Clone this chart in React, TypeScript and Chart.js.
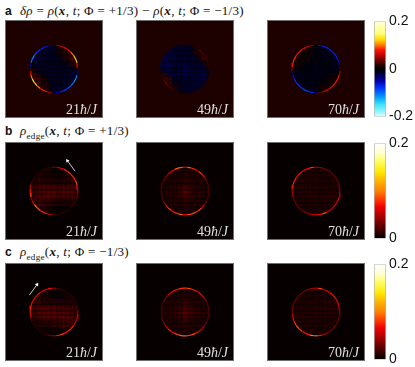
import React, { useEffect, useRef } from "react";
import { Chart, registerables } from "chart.js";

Chart.register(...registerables);

// ---- Colour maps: value levels and their colours ----
const divergingLevels = [-0.2, -0.15, -0.12, -0.08, -0.05, -0.015, 0, 0.015, 0.05, 0.08, 0.105, 0.125, 0.15, 0.2];
const divergingColors = ["#d4ffff", "#40e4ff", "#00a4ff", "#0034ff", "#0000a8", "#000028", "#000000", "#240000", "#a00000", "#ff1000", "#ff9000", "#ffe000", "#ffff80", "#ffffd8"];
const sequentialLevels = [0, 0.04, 0.066, 0.08, 0.1, 0.12, 0.14, 0.165, 0.18, 0.2];
const sequentialColors = ["#000000", "#900000", "#ee0000", "#ff3000", "#ff8000", "#ffb000", "#ffe800", "#ffff70", "#ffffd0", "#ffffff"];

// ---- Tick labels, times ----
const divergingTicks = [-0.2, 0, 0.2];
const sequentialTicks = [0, 0.2];
const timeLabels = ["21", "49", "70"];

// ---- Background level outside the disc for each row ----
const floorA = 0.012;
const floorB = 0.002;
const floorC = 0.002;

// ---- Edge (rim) density, one value every 10 degrees, counter-clockwise from east ----
const rimA21 = [0.02, 0.07, 0.12, 0.12, 0.1, 0.08, 0.07, 0.06, 0.05, 0.01, -0.04, -0.06, -0.07, -0.08, -0.09, -0.11, -0.1, -0.04, 0.02, 0.06, 0.1, 0.13, 0.12, 0.1, 0.08, 0.07, 0.05, -0.02, -0.05, -0.07, -0.08, -0.09, -0.1, -0.11, -0.11, -0.05];
const rimA49 = [0.012, 0.016, 0.02, 0.022, 0.028, 0.028, 0.016, 0.01, -0.008, -0.01, -0.012, -0.014, -0.016, -0.016, -0.02, -0.024, -0.028, -0.024, -0.012, 0.01, 0.018, 0.028, 0.032, 0.024, 0.018, 0.012, 0.008, -0.008, -0.012, -0.014, -0.016, -0.02, -0.016, -0.016, -0.014, -0.01];
const rimA70 = [0.02, -0.03, -0.06, -0.07, -0.075, -0.07, -0.07, -0.07, -0.06, -0.01, 0.04, 0.06, 0.07, 0.08, 0.08, 0.085, 0.085, 0.08, 0.04, -0.03, -0.06, -0.075, -0.08, -0.08, -0.085, -0.08, -0.07, -0.03, 0.03, 0.06, 0.065, 0.07, 0.08, 0.08, 0.075, 0.05];
const rimB21 = [0.05, 0.07, 0.085, 0.08, 0.075, 0.08, 0.075, 0.065, 0.05, 0.03, 0.015, 0.012, 0.012, 0.012, 0.012, 0.012, 0.02, 0.05, 0.07, 0.08, 0.04, 0.06, 0.1, 0.09, 0.075, 0.07, 0.05, 0.02, 0.012, 0.012, 0.012, 0.012, 0.012, 0.015, 0.02, 0.03];
const rimB49 = [0.02, 0.02, 0.025, 0.04, 0.07, 0.08, 0.065, 0.075, 0.09, 0.06, 0.09, 0.09, 0.06, 0.06, 0.04, 0.03, 0.02, 0.018, 0.018, 0.02, 0.02, 0.035, 0.07, 0.085, 0.07, 0.08, 0.09, 0.07, 0.085, 0.085, 0.075, 0.085, 0.06, 0.035, 0.02, 0.02];
const rimB70 = [0.04, 0.035, 0.03, 0.03, 0.03, 0.03, 0.03, 0.035, 0.04, 0.045, 0.08, 0.07, 0.065, 0.07, 0.07, 0.075, 0.075, 0.07, 0.05, 0.04, 0.03, 0.03, 0.03, 0.03, 0.035, 0.04, 0.05, 0.06, 0.07, 0.09, 0.06, 0.055, 0.06, 0.06, 0.065, 0.055];
const rimC21 = [0.04, 0.02, 0.012, 0.012, 0.012, 0.012, 0.012, 0.012, 0.02, 0.04, 0.07, 0.06, 0.06, 0.07, 0.065, 0.065, 0.07, 0.075, 0.07, 0.05, 0.02, 0.012, 0.012, 0.012, 0.012, 0.015, 0.025, 0.04, 0.07, 0.085, 0.07, 0.075, 0.075, 0.06, 0.055, 0.06];
const rimC49 = [0.02, 0.02, 0.025, 0.035, 0.06, 0.07, 0.06, 0.07, 0.085, 0.08, 0.08, 0.07, 0.07, 0.065, 0.045, 0.03, 0.02, 0.02, 0.02, 0.02, 0.03, 0.04, 0.06, 0.075, 0.07, 0.085, 0.09, 0.09, 0.08, 0.09, 0.07, 0.06, 0.05, 0.03, 0.02, 0.02];
const rimC70 = [0.035, 0.05, 0.065, 0.065, 0.07, 0.07, 0.06, 0.05, 0.085, 0.05, 0.045, 0.04, 0.03, 0.03, 0.03, 0.03, 0.03, 0.03, 0.035, 0.05, 0.07, 0.08, 0.09, 0.08, 0.07, 0.075, 0.1, 0.09, 0.07, 0.05, 0.035, 0.03, 0.03, 0.03, 0.03, 0.03];

// ---- Bulk density of each disc, 9 x 9 coarse table, top row first ----
const bulkA21 = [
  [0, 0, -0.012, -0.013, -0.011, 0.007, 0.012, 0, 0],
  [0, -0.013, -0.013, -0.011, -0.009, 0.007, 0.013, 0.015, 0],
  [-0.015, -0.013, -0.011, -0.009, -0.009, -0.007, 0.009, 0.018, 0.018],
  [-0.012, -0.011, -0.009, -0.009, -0.009, -0.009, -0.007, 0.011, 0.015],
  [0.007, -0.009, -0.009, -0.009, -0.009, -0.009, -0.009, -0.009, -0.011],
  [0.015, 0.011, -0.007, -0.009, -0.009, -0.009, -0.009, -0.011, -0.013],
  [0.018, 0.018, 0.009, -0.007, -0.009, -0.009, -0.011, -0.013, -0.015],
  [0, 0.015, 0.013, 0.007, -0.009, -0.011, -0.013, -0.013, 0],
  [0, 0, 0.012, 0.007, -0.011, -0.013, -0.013, 0, 0],
];
const bulkA49 = [
  [0, 0, -0.014, -0.014, -0.012, -0.01, 0.01, 0, 0],
  [0, -0.016, -0.014, -0.014, -0.012, -0.012, 0.012, 0.015, 0],
  [-0.018, -0.016, -0.014, -0.012, -0.012, -0.012, -0.01, 0.015, 0.018],
  [-0.018, -0.016, -0.012, -0.012, -0.014, -0.012, -0.012, -0.012, 0.012],
  [-0.016, -0.014, -0.012, -0.014, -0.016, -0.014, -0.012, -0.014, -0.012],
  [0.012, -0.012, -0.012, -0.012, -0.014, -0.012, -0.012, -0.016, -0.018],
  [0.018, 0.015, -0.01, -0.012, -0.012, -0.012, -0.014, -0.016, -0.018],
  [0, 0.016, 0.012, -0.01, -0.012, -0.012, -0.014, -0.016, 0],
  [0, 0, 0.01, -0.01, -0.012, -0.014, -0.014, 0, 0],
];
const bulkA70 = [
  [0, 0, 0.007, 0.006, -0.005, -0.007, -0.007, 0, 0],
  [0, 0.008, 0.007, 0.005, -0.005, -0.007, -0.008, -0.008, 0],
  [0.008, 0.007, 0.005, -0.005, -0.005, -0.005, -0.007, -0.008, -0.008],
  [0.007, 0.005, -0.005, -0.005, -0.006, -0.005, -0.005, -0.007, -0.007],
  [-0.005, -0.005, -0.005, -0.006, -0.007, -0.006, -0.005, -0.005, -0.005],
  [-0.007, -0.007, -0.005, -0.005, -0.006, -0.005, -0.005, 0.005, 0.007],
  [-0.008, -0.008, -0.007, -0.005, -0.005, -0.005, 0.005, 0.007, 0.008],
  [0, -0.008, -0.008, -0.007, -0.005, 0.005, 0.007, 0.008, 0],
  [0, 0, -0.007, -0.007, -0.005, 0.006, 0.007, 0, 0],
];
const bulkB21 = [
  [0, 0, 0.007, 0.005, 0.003, 0.003, 0.006, 0, 0],
  [0, 0.008, 0.007, 0.005, 0.003, 0.003, 0.006, 0.009, 0],
  [0.007, 0.009, 0.008, 0.007, 0.006, 0.006, 0.007, 0.01, 0.011],
  [0.011, 0.013, 0.014, 0.013, 0.012, 0.012, 0.013, 0.014, 0.013],
  [0.012, 0.014, 0.016, 0.017, 0.016, 0.014, 0.016, 0.016, 0.013],
  [0.012, 0.014, 0.017, 0.016, 0.014, 0.013, 0.012, 0.013, 0.011],
  [0.013, 0.014, 0.012, 0.01, 0.007, 0.006, 0.007, 0.007, 0.007],
  [0, 0.012, 0.01, 0.006, 0.003, 0.003, 0.003, 0.003, 0],
  [0, 0, 0.008, 0.005, 0.003, 0.003, 0.003, 0, 0],
];
const bulkB49 = [
  [0, 0, 0.007, 0.007, 0.007, 0.007, 0.007, 0, 0],
  [0, 0.007, 0.007, 0.007, 0.008, 0.007, 0.007, 0.007, 0],
  [0.006, 0.007, 0.007, 0.008, 0.009, 0.008, 0.007, 0.007, 0.006],
  [0.006, 0.007, 0.008, 0.01, 0.012, 0.01, 0.008, 0.007, 0.006],
  [0.007, 0.008, 0.008, 0.012, 0.016, 0.012, 0.008, 0.008, 0.007],
  [0.006, 0.007, 0.008, 0.01, 0.012, 0.01, 0.008, 0.007, 0.006],
  [0.006, 0.007, 0.007, 0.008, 0.009, 0.008, 0.007, 0.007, 0.006],
  [0, 0.007, 0.007, 0.007, 0.008, 0.007, 0.007, 0.007, 0],
  [0, 0, 0.007, 0.007, 0.007, 0.007, 0.007, 0, 0],
];
const bulkB70 = [
  [0, 0, 0.007, 0.007, 0.007, 0.006, 0.006, 0, 0],
  [0, 0.007, 0.007, 0.007, 0.007, 0.007, 0.007, 0.006, 0],
  [0.008, 0.008, 0.007, 0.007, 0.007, 0.007, 0.007, 0.007, 0.006],
  [0.008, 0.008, 0.008, 0.007, 0.007, 0.007, 0.007, 0.007, 0.007],
  [0.007, 0.008, 0.008, 0.008, 0.007, 0.007, 0.007, 0.008, 0.007],
  [0.006, 0.007, 0.007, 0.008, 0.007, 0.008, 0.008, 0.008, 0.008],
  [0.006, 0.007, 0.007, 0.007, 0.007, 0.007, 0.008, 0.008, 0.008],
  [0, 0.006, 0.007, 0.007, 0.007, 0.007, 0.008, 0.007, 0],
  [0, 0, 0.006, 0.007, 0.007, 0.007, 0.007, 0, 0],
];
const bulkC21 = [
  [0, 0, 0.007, 0.005, 0.003, 0.003, 0.005, 0, 0],
  [0, 0.008, 0.007, 0.005, 0.003, 0.003, 0.005, 0.007, 0],
  [0.01, 0.011, 0.008, 0.007, 0.007, 0.007, 0.007, 0.007, 0.007],
  [0.012, 0.014, 0.016, 0.014, 0.014, 0.014, 0.013, 0.012, 0.011],
  [0.012, 0.016, 0.017, 0.017, 0.017, 0.016, 0.016, 0.014, 0.012],
  [0.01, 0.013, 0.016, 0.016, 0.016, 0.017, 0.017, 0.016, 0.013],
  [0.006, 0.008, 0.01, 0.008, 0.01, 0.012, 0.014, 0.014, 0.013],
  [0, 0.003, 0.003, 0.003, 0.003, 0.005, 0.008, 0.011, 0],
  [0, 0, 0.003, 0.003, 0.003, 0.003, 0.006, 0, 0],
];
const bulkC49 = [
  [0, 0, 0.007, 0.007, 0.007, 0.007, 0.007, 0, 0],
  [0, 0.007, 0.007, 0.007, 0.008, 0.007, 0.007, 0.007, 0],
  [0.006, 0.007, 0.007, 0.008, 0.01, 0.008, 0.007, 0.007, 0.006],
  [0.007, 0.007, 0.008, 0.011, 0.013, 0.011, 0.008, 0.007, 0.007],
  [0.008, 0.008, 0.01, 0.013, 0.017, 0.013, 0.01, 0.008, 0.008],
  [0.007, 0.007, 0.008, 0.011, 0.013, 0.011, 0.008, 0.007, 0.007],
  [0.006, 0.007, 0.007, 0.008, 0.01, 0.008, 0.007, 0.007, 0.006],
  [0, 0.007, 0.007, 0.007, 0.008, 0.007, 0.007, 0.007, 0],
  [0, 0, 0.007, 0.007, 0.007, 0.007, 0.007, 0, 0],
];
const bulkC70 = [
  [0, 0, 0.006, 0.007, 0.007, 0.007, 0.007, 0, 0],
  [0, 0.006, 0.007, 0.007, 0.007, 0.007, 0.007, 0.007, 0],
  [0.006, 0.007, 0.007, 0.007, 0.007, 0.007, 0.008, 0.008, 0.007],
  [0.007, 0.007, 0.007, 0.007, 0.007, 0.008, 0.008, 0.008, 0.007],
  [0.007, 0.008, 0.007, 0.007, 0.008, 0.008, 0.008, 0.007, 0.007],
  [0.008, 0.008, 0.008, 0.008, 0.007, 0.007, 0.007, 0.007, 0.006],
  [0.008, 0.008, 0.008, 0.007, 0.007, 0.007, 0.007, 0.007, 0.006],
  [0, 0.007, 0.007, 0.007, 0.007, 0.007, 0.007, 0.006, 0],
  [0, 0, 0.007, 0.007, 0.007, 0.006, 0.006, 0, 0],
];

// ---- Lattice stripes seen through the bulk, 22 rows and 22 columns ----
const latticeRowWeight = [0.8, 1.1, 0.7, 1.2, 0.8, 1.0, 1.3, 0.7, 1.1, 1.4, 0.7, 1.3, 0.8, 1.4, 0.9, 1.2, 0.7, 1.2, 0.8, 1.0, 1.2, 0.8];
const latticeColWeight = [1.0, 0.8, 1.1, 0.9, 1.2, 0.8, 1.1, 0.9, 1.2, 0.8, 1.1, 1.2, 0.8, 1.1, 0.9, 1.2, 0.8, 1.1, 0.9, 1.2, 0.8, 1.0];

// ---- White arrows: [x, y] in disc-radius units ----
const arrowB21Tail = [0.885, 0.827];
const arrowB21Tip = [0.56, 1.27];
const arrowC21Tail = [-1.03, 0.71];
const arrowC21Tip = [-0.71, 1.15];

const AXIS_EXTENT = 1.885;

type Stops = { levels: number[]; colors: string[] };
const diverging: Stops = { levels: divergingLevels, colors: divergingColors };
const sequential: Stops = { levels: sequentialLevels, colors: sequentialColors };

function hex(c: string) {
  return [1, 3, 5].map((i) => parseInt(c.slice(i, i + 2), 16));
}
function colorOf(v: number, s: Stops) {
  const { levels, colors } = s;
  if (v <= levels[0]) return colors[0];
  for (let i = 1; i < levels.length; i++) {
    if (v <= levels[i]) {
      const t = (v - levels[i - 1]) / (levels[i] - levels[i - 1]);
      const a = hex(colors[i - 1]);
      const b = hex(colors[i]);
      return `rgb(${a.map((p, k) => Math.round(p + (b[k] - p) * t)).join(",")})`;
    }
  }
  return colors[colors.length - 1];
}

const panelFrame = {
  id: "panelFrame",
  beforeDraw(chart: any, _a: any, o: any) {
    const { ctx, width, height } = chart;
    ctx.save();
    ctx.fillStyle = o.fill;
    ctx.fillRect(0, 0, width, height);
    ctx.restore();
  },
  afterDraw(chart: any) {
    const { ctx, width, height } = chart;
    ctx.save();
    ctx.strokeStyle = "#6f6f6f";
    ctx.lineWidth = 1;
    ctx.strokeRect(0.5, 0.5, width - 1, height - 1);
    ctx.restore();
  },
};

type PanelProps = {
  rim: number[];
  bulk: number[][];
  floor: number;
  stops: Stops;
  tail?: number[];
  tip?: number[];
  left: number;
  top: number;
};

function Panel({ rim, bulk, floor, stops, tail, tip, left, top }: PanelProps) {
  const ref = useRef<HTMLCanvasElement>(null);
  useEffect(() => {
    const cells: { x: number; y: number; v: number }[] = [];
    latticeRowWeight.forEach((rw, r) => {
      latticeColWeight.forEach((cw, c) => {
        const x = -1 + ((c + 0.5) / latticeColWeight.length) * 2;
        const y = 1 - ((r + 0.5) / latticeRowWeight.length) * 2;
        if (x * x + y * y > 0.98) return;
        const row = bulk[Math.floor((r / latticeRowWeight.length) * bulk.length)];
        const v = row[Math.floor((c / latticeColWeight.length) * row.length)];
        cells.push({ x, y, v: v * rw * cw });
      });
    });
    const step = 360 / rim.length;
    const ring = [...rim, rim[0]].map((_, i) => {
      const a = ((i * step - step / 2) * Math.PI) / 180;
      return { x: Math.cos(a), y: Math.sin(a) };
    });
    const datasets: any[] = [
      {
        data: cells,
        order: 3,
        pointStyle: "rect",
        pointRadius: 1.8,
        pointBorderWidth: 0,
        pointBackgroundColor: (c: any) => colorOf(cells[c.dataIndex]?.v ?? 0, stops),
        showLine: false,
      },
      {
        data: ring,
        order: 2,
        showLine: true,
        pointRadius: 0,
        borderWidth: 1.2,
        borderColor: "#000",
        segment: { borderColor: (c: any) => colorOf(rim[c.p0DataIndex % rim.length], stops) },
      },
    ];
    if (tail && tip) {
      const rot = (Math.atan2(tip[0] - tail[0], tip[1] - tail[1]) * 180) / Math.PI;
      datasets.push(
        {
          data: [{ x: tail[0], y: tail[1] }, { x: tip[0], y: tip[1] }],
          order: 1,
          showLine: true,
          pointRadius: 0,
          borderWidth: 1,
          borderColor: "#c8c8c8",
        },
        {
          data: [{ x: tip[0], y: tip[1] }],
          order: 0,
          pointStyle: "triangle",
          pointRadius: 2.2,
          rotation: rot,
          pointBorderWidth: 0,
          pointBackgroundColor: "#ffffff",
          showLine: false,
        }
      );
    }
    const chart = new Chart(ref.current!, {
      type: "scatter",
      data: { datasets },
      plugins: [panelFrame],
      options: {
        animation: false,
        responsive: false,
        events: [],
        layout: { padding: 0 },
        clip: false,
        scales: {
          x: { display: false, min: -AXIS_EXTENT, max: AXIS_EXTENT },
          y: { display: false, min: -AXIS_EXTENT, max: AXIS_EXTENT },
        },
        plugins: { legend: { display: false }, tooltip: { enabled: false }, panelFrame: { fill: colorOf(floor, stops) } },
      } as any,
    });
    return () => chart.destroy();
  }, []);
  return <canvas ref={ref} width={98} height={98} style={{ position: "absolute", left, top, width: 98, height: 98 }} />;
}

function ColorBar({ stops, ticks, top }: { stops: Stops; ticks: number[]; top: number }) {
  const ref = useRef<HTMLCanvasElement>(null);
  useEffect(() => {
    const lo = stops.levels[0];
    const hi = stops.levels[stops.levels.length - 1];
    const chart = new Chart(ref.current!, {
      type: "bar",
      data: {
        labels: [""],
        datasets: [
          {
            data: [[lo, hi]],
            barPercentage: 1,
            categoryPercentage: 1,
            borderWidth: 1,
            borderSkipped: false,
            borderColor: "#b4b4b4",
            backgroundColor: (c: any) => {
              const a = c.chart.chartArea;
              if (!a) return "#000";
              const g = c.chart.ctx.createLinearGradient(0, a.bottom, 0, a.top);
              stops.levels.forEach((l, i) => g.addColorStop((l - lo) / (hi - lo), stops.colors[i]));
              return g;
            },
          },
        ],
      } as any,
      options: {
        animation: false,
        responsive: false,
        events: [],
        layout: { padding: { top: 10, bottom: 10, left: 0, right: 0 } },
        scales: {
          x: { display: false },
          y: {
            position: "right",
            min: lo,
            max: hi,
            afterFit: (s: any) => {
              s.width = 29;
            },
            afterBuildTicks: (s: any) => {
              s.ticks = ticks.map((value) => ({ value }));
            },
            grid: { display: false, drawTicks: false },
            border: { display: false },
            ticks: {
              padding: 3,
              crossAlign: "near",
              color: "#111",
              font: { family: "'Liberation Sans', Arial, sans-serif", size: 14 },
              callback: (v: any) => String(v),
              autoSkip: false,
              maxRotation: 0,
            },
          },
        },
        plugins: { legend: { display: false }, tooltip: { enabled: false } },
      } as any,
    });
    return () => chart.destroy();
  }, []);
  return <canvas ref={ref} width={41} height={118} style={{ position: "absolute", left: 374, top: top - 10, width: 41, height: 118 }} />;
}

const serif = "'Liberation Serif', 'Times New Roman', serif";
const sans = "'Liberation Sans', Arial, sans-serif";
const I = ({ children }: any) => <i>{children}</i>;
const BX = () => <b><i>x</i></b>;

function TimeLabel({ n, right, bottom }: { n: string; right: number; bottom: number }) {
  return (
    <div style={{ position: "absolute", left: right - 50, width: 50, top: bottom - 15, textAlign: "right", color: "#e0e0e0", font: `14px/15px ${serif}`, whiteSpace: "nowrap" }}>
      {n}<i>ħ</i>/<i>J</i>
    </div>
  );
}

function Heading({ letter, top, children, spacing }: any) {
  return (
    <>
      <div style={{ position: "absolute", left: 5, top, font: `bold 12px/14px ${sans}`, color: "#111" }}>{letter}</div>
      <div style={{ position: "absolute", left: 20, top: top - 1, font: `13px/16px ${serif}`, color: "#111", whiteSpace: "nowrap", letterSpacing: spacing }}>{children}</div>
    </>
  );
}

const columnLefts = [5, 136, 267];
const rowTops = [20, 142, 263];
const panelGrid = [
  { rims: [rimA21, rimA49, rimA70], bulks: [bulkA21, bulkA49, bulkA70], floor: floorA, stops: diverging },
  { rims: [rimB21, rimB49, rimB70], bulks: [bulkB21, bulkB49, bulkB70], floor: floorB, stops: sequential },
  { rims: [rimC21, rimC49, rimC70], bulks: [bulkC21, bulkC49, bulkC70], floor: floorC, stops: sequential },
];
const arrows: any = { "1-0": [arrowB21Tail, arrowB21Tip], "2-0": [arrowC21Tail, arrowC21Tip] };

export default function App() {
  return (
    <div style={{ position: "absolute", left: 0, top: 0, width: 415, height: 367, overflow: "hidden", background: "#fff" }}>
      <Heading letter="a" top={4} spacing="0.3px">
        <I>δρ</I> = <I>ρ</I>(<BX />, <I>t</I>; Φ = +1/3) − <I>ρ</I>(<BX />, <I>t</I>; Φ = −1/3)
      </Heading>
      <Heading letter="b" top={124} spacing="0.3px">
        <I>ρ</I><sub style={{ fontSize: 9, lineHeight: 0 }}>edge</sub>(<BX />, <I>t</I>; Φ = +1/3)
      </Heading>
      <Heading letter="c" top={245} spacing="0.3px">
        <I>ρ</I><sub style={{ fontSize: 9, lineHeight: 0 }}>edge</sub>(<BX />, <I>t</I>; Φ = −1/3)
      </Heading>
      {panelGrid.map((row, r) =>
        row.rims.map((rim, c) => (
          <React.Fragment key={`${r}-${c}`}>
            <Panel
              rim={rim}
              bulk={row.bulks[c]}
              floor={row.floor}
              stops={row.stops}
              tail={arrows[`${r}-${c}`]?.[0]}
              tip={arrows[`${r}-${c}`]?.[1]}
              left={columnLefts[c]}
              top={rowTops[r]}
            />
            <TimeLabel n={timeLabels[c]} right={columnLefts[c] + 92} bottom={rowTops[r] + 97} />
          </React.Fragment>
        ))
      )}
      <ColorBar stops={diverging} ticks={divergingTicks} top={rowTops[0]} />
      <ColorBar stops={sequential} ticks={sequentialTicks} top={rowTops[1]} />
      <ColorBar stops={sequential} ticks={sequentialTicks} top={rowTops[2]} />
    </div>
  );
}
